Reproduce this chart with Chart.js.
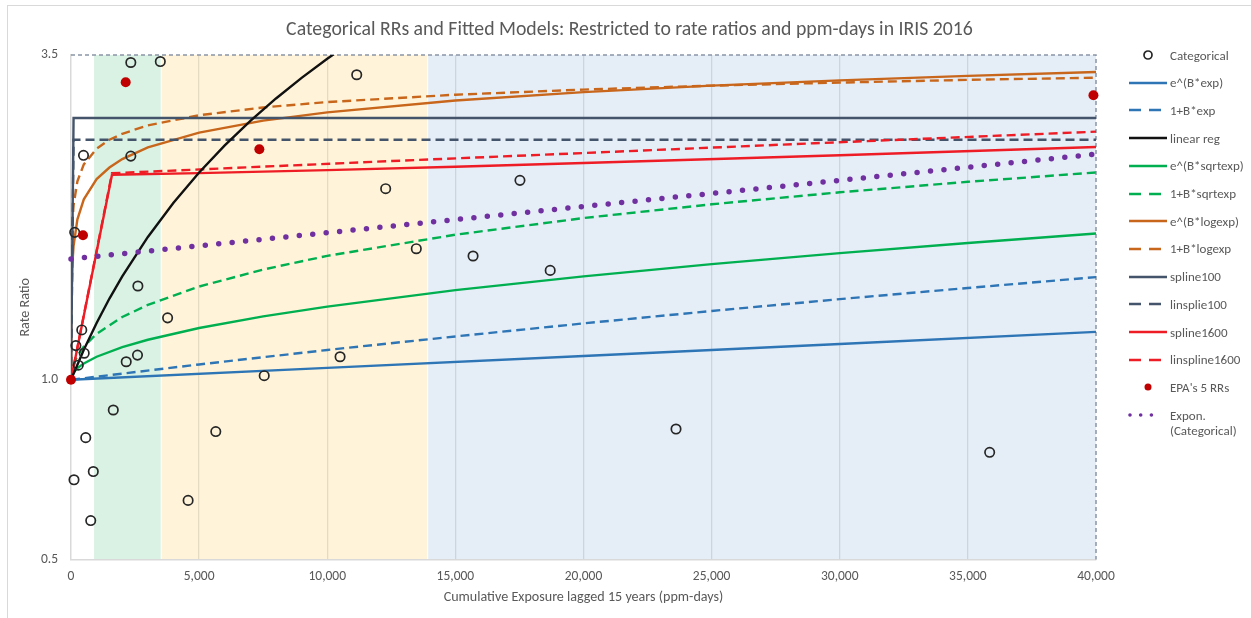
<!DOCTYPE html>
<html><head><meta charset="utf-8">
<script src="https://cdn.jsdelivr.net/npm/chart.js@4.4.1/dist/chart.umd.min.js"></script>
<style>
body{margin:0;background:#fff;width:1251px;height:618px;overflow:hidden;position:relative;font-family:Carlito,Lato,sans-serif;}
#frame{position:absolute;left:7px;top:5px;width:1300px;height:700px;border:1px solid #d9d9d9;box-sizing:border-box;}
#c{position:absolute;left:0;top:0;}
#title{position:absolute;left:0;width:1259px;top:16px;text-align:center;font-size:19.8px;color:#595959;white-space:nowrap;}
.lg{position:absolute;left:1125px;font-size:13px;color:#595959;line-height:15px;}
.lg svg{position:absolute;left:0;top:0;}
.lg span{position:absolute;left:45px;top:-0.5px;white-space:nowrap;}
</style></head>
<body>
<div id="frame"></div>
<canvas id="c" width="1251" height="618"></canvas>
<div id="title">Categorical RRs and Fitted Models: Restricted to rate ratios and ppm-days in IRIS 2016</div>
<div id="legend"></div>
<script>
// ---- data ----
const xTickLabelsMax = 40000;
const bandEdges = [900, 3500, 13900, 40000];           // exposure bands (ppm-days)
const yTicks = [0.5, 1.0, 3.5];

const catX = [144, 488, 2334, 3485, 2334, 11150, 12280, 17520, 13475, 15690, 18700, 2610, 3770, 420, 190, 515, 285, 2155, 2595, 10500, 7540, 1650, 575, 5650, 23610, 35850, 117, 870, 770, 4570];
const catY = [1.766, 2.377, 3.40, 3.413, 2.370, 3.243, 2.090, 2.158, 1.658, 1.612, 1.525, 1.436, 1.270, 1.212, 1.141, 1.108, 1.058, 1.072, 1.100, 1.093, 1.016, 0.890, 0.800, 0.819, 0.827, 0.756, 0.680, 0.702, 0.581, 0.628];

const epaX = [0, 468, 2135, 7350, 39900];
const epaY = [1.0, 1.746, 3.15, 2.433, 2.996];

const expX = [0, 10000, 20000, 30000, 40000];
const expY = [1.0, 1.047, 1.096, 1.148, 1.203];

const linExpX = [0, 5000, 10000, 15000, 20000, 25000, 30000, 35000, 40000];
const linExpY = [1.0, 1.061, 1.122, 1.182, 1.243, 1.304, 1.365, 1.425, 1.486];

const linRegX = [0, 500, 1000, 1500, 2000, 3000, 4000, 5000, 6000, 7000, 8000, 9000, 10000, 11000];
const linRegY = [1.0, 1.123, 1.245, 1.368, 1.49, 1.735, 1.98, 2.225, 2.47, 2.715, 2.96, 3.205, 3.45, 3.695];

const sqrtX = [0, 25, 100, 250, 500, 1000, 2000, 3000, 5000, 7500, 10000, 15000, 20000, 25000, 30000, 35000, 40000];
const sqrtExpY = [1.0, 1.014, 1.029, 1.046, 1.065, 1.093, 1.134, 1.167, 1.221, 1.277, 1.326, 1.413, 1.490, 1.562, 1.630, 1.695, 1.758];
const sqrtLinY = [1.0, 1.031, 1.061, 1.097, 1.137, 1.194, 1.274, 1.335, 1.433, 1.530, 1.613, 1.750, 1.866, 1.968, 2.061, 2.146, 2.225];

const logX = [0, 10, 50, 100, 250, 500, 1000, 1500, 2000, 3000, 5000, 7500, 10000, 15000, 20000, 25000, 30000, 35000, 40000];
const logExpY = [1.0, 1.308, 1.553, 1.677, 1.857, 2.006, 2.169, 2.268, 2.343, 2.451, 2.595, 2.717, 2.805, 2.937, 3.033, 3.110, 3.174, 3.229, 3.278];
const logLinY = [1.0, 1.50, 1.819, 1.961, 2.151, 2.295, 2.439, 2.524, 2.583, 2.668, 2.774, 2.859, 2.919, 3.003, 3.063, 3.110, 3.147, 3.180, 3.207];

const spline100X = [0, 100, 40000];
const spline100Y = [1.0, 2.745, 2.745];
const linspline100Y = [1.0, 2.524, 2.524];

const spline1600X = [0, 1600, 5000, 10000, 15000, 20000, 30000, 40000];
const spline1600Y = [1.0, 2.205, 2.219, 2.245, 2.275, 2.307, 2.378, 2.454];

const linspline1600X = [0, 1600, 12500, 20000, 29000, 40000];
const linspline1600Y = [1.0, 2.218, 2.325, 2.398, 2.49, 2.604];

const trendX = [0, 40000];
const trendY = [1.594, 2.388];

const legendNames = ['Categorical','e^(B*exp)','1+B*exp','linear reg','e^(B*sqrtexp)','1+B*sqrtexp','e^(B*logexp)','1+B*logexp','spline100','linsplie100','spline1600','linspline1600',"EPA's 5 RRs",'Expon.\n(Categorical)'];

// ---- styling ----
const C = {blue:'#2e75b6', black:'#111111', green:'#00b050', orange:'#c8661c', slate:'#44546a', red:'#ee1c25', epa:'#c00000', purple:'#7030a0', cat:'#262626'};
const DASH = [9, 5];
const zip = (xs, ys) => xs.map((x, i) => ({x, y: ys[i]}));
function lineDs(label, xs, ys, color, dashed, order) {
  return {label, data: zip(xs, ys), borderColor: color, backgroundColor: color, borderWidth: 2.4,
    borderDash: dashed ? DASH : [], pointRadius: 0, tension: 0, fill: false, order};
}

const datasets = [
  {label: legendNames[0], data: zip(catX, catY), showLine: false, pointRadius: 4.7, pointBorderWidth: 1.7,
   pointBorderColor: C.cat, pointBackgroundColor: 'rgba(0,0,0,0)', order: 1, clip: false},
  lineDs(legendNames[1], expX, expY, C.blue, false, 10),
  lineDs(legendNames[2], linExpX, linExpY, C.blue, true, 10),
  lineDs(legendNames[3], linRegX, linRegY, C.black, false, 5),
  lineDs(legendNames[4], sqrtX, sqrtExpY, C.green, false, 9),
  lineDs(legendNames[5], sqrtX, sqrtLinY, C.green, true, 9),
  lineDs(legendNames[6], logX, logExpY, C.orange, false, 8),
  lineDs(legendNames[7], logX, logLinY, C.orange, true, 8),
  lineDs(legendNames[8], spline100X, spline100Y, C.slate, false, 7),
  lineDs(legendNames[9], spline100X, linspline100Y, C.slate, true, 7),
  lineDs(legendNames[10], spline1600X, spline1600Y, C.red, false, 6),
  lineDs(legendNames[11], linspline1600X, linspline1600Y, C.red, true, 6),
  {label: legendNames[12], data: zip(epaX, epaY), showLine: false, pointRadius: 5, pointBorderWidth: 0,
   pointBackgroundColor: C.epa, pointBorderColor: C.epa, order: 0, clip: false},
  {label: 'Expon. (Categorical)', data: zip(trendX, trendY), borderColor: C.purple, borderWidth: 5.5,
   borderDash: [0, 13.5], borderCapStyle: 'round', pointRadius: 0, fill: false, order: 4, clip: 4}
];

const bandColors = ['#d9f2e4', '#fff4d9', '#e5edf7'];
const bgPlugin = {
  id: 'bands',
  beforeDraw(chart) {
    const {ctx, chartArea: a, scales: {x}} = chart;
    ctx.save();
    for (let i = 0; i < bandEdges.length - 1; i++) {
      const x0 = x.getPixelForValue(bandEdges[i]);
      const x1 = x.getPixelForValue(bandEdges[i + 1]);
      ctx.fillStyle = bandColors[i];
      ctx.fillRect(x0 + (i > 0 ? 1 : 0), a.top, x1 - x0 - (i > 0 ? 1 : 0), a.bottom - a.top);
    }
    ctx.restore();
  },
  beforeDatasetsDraw(chart) {
    const {ctx, chartArea: a} = chart;
    ctx.save();
    ctx.strokeStyle = '#8a94a6';
    ctx.lineWidth = 1.5;
    ctx.setLineDash([4, 3]);
    ctx.beginPath();
    ctx.moveTo(a.left, a.top); ctx.lineTo(a.right, a.top); ctx.lineTo(a.right, a.bottom);
    ctx.stroke();
    ctx.restore();
  }
};

const font = 'Carlito, Lato, sans-serif';
new Chart(document.getElementById('c'), {
  type: 'line',
  data: {datasets},
  plugins: [bgPlugin],
  options: {
    responsive: false, animation: false, devicePixelRatio: 1, events: [],
    layout: {padding: {top: 55, right: 155, bottom: 0, left: 0}},
    plugins: {legend: {display: false}, title: {display: false}, tooltip: {enabled: false}},
    scales: {
      x: {
        type: 'linear', min: 0, max: xTickLabelsMax,
        ticks: {stepSize: 5000, padding: 9, color: '#595959', font: {family: font, size: 13.5},
          callback: v => v.toLocaleString('en-US'), maxRotation: 0},
        grid: {drawTicks: false, lineWidth: 1.3,
          color: c => (c.tick && (c.tick.value === 0 || c.tick.value === xTickLabelsMax)) ? 'rgba(0,0,0,0)' : 'rgba(0,0,0,0.1)'},
        border: {display: true, color: '#d9d9d9', width: 1.5},
        title: {display: true, text: 'Cumulative Exposure lagged 15 years (ppm-days)', color: '#595959',
          font: {family: font, size: 14.1}, padding: {top: 0, bottom: 12}},
        afterFit: s => { s.height = 58.5; }
      },
      y: {
        type: 'logarithmic', min: 0.5, max: 3.5,
        afterBuildTicks: s => { s.ticks = yTicks.map(v => ({value: v})); },
        ticks: {padding: 13, color: '#595959', font: {family: font, size: 13.5}, callback: v => Number(v).toFixed(1)},
        grid: {drawOnChartArea: false, drawTicks: false},
        border: {display: true, color: '#d9d9d9', width: 1.5},
        title: {display: true, text: 'Rate Ratio', color: '#595959', font: {family: font, size: 14.1}, padding: {top: 17, bottom: 0}},
        afterFit: s => { s.width = 71; }
      }
    }
  }
});

// ---- HTML legend ----
const legendStyles = [
  {t: 'circle'}, {t: 'line', c: C.blue}, {t: 'dash', c: C.blue}, {t: 'line', c: C.black},
  {t: 'line', c: C.green}, {t: 'dash', c: C.green}, {t: 'line', c: C.orange}, {t: 'dash', c: C.orange},
  {t: 'line', c: C.slate}, {t: 'dash', c: C.slate}, {t: 'line', c: C.red}, {t: 'dash', c: C.red},
  {t: 'dot', c: C.epa}, {t: 'dots', c: C.purple}
];
const lg = document.getElementById('legend');
legendNames.forEach((name, i) => {
  const yc = 55 + i * 27.7;
  const d = document.createElement('div');
  d.className = 'lg';
  d.style.top = (yc - 7) + 'px';
  const st = legendStyles[i];
  let svg = '';
  if (st.t === 'circle') svg = `<circle cx="23" cy="7" r="4" fill="none" stroke="${C.cat}" stroke-width="1.7"/>`;
  else if (st.t === 'line') svg = `<line x1="4" y1="7" x2="42" y2="7" stroke="${st.c}" stroke-width="2.4"/>`;
  else if (st.t === 'dash') svg = `<line x1="4" y1="7" x2="36" y2="7" stroke="${st.c}" stroke-width="2.4" stroke-dasharray="12 8"/>`;
  else if (st.t === 'dot') svg = `<circle cx="23" cy="7" r="3.5" fill="${st.c}"/>`;
  else if (st.t === 'dots') svg = `<line x1="5" y1="7" x2="37" y2="7" stroke="${st.c}" stroke-width="3.6" stroke-linecap="round" stroke-dasharray="0 10.7"/>`;
  d.innerHTML = `<svg width="46" height="14">${svg}</svg><span>${name.replace('\n', '<br>')}</span>`;
  lg.appendChild(d);
});
</script>
</body></html>
